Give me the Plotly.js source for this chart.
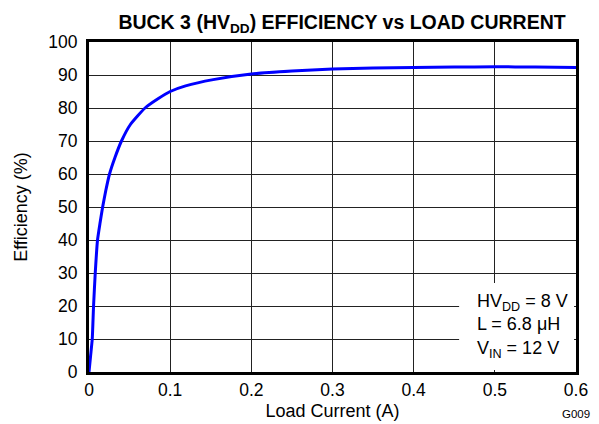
<!DOCTYPE html>
<html>
<head>
<meta charset="utf-8">
<script src="https://cdn.plot.ly/plotly-3.0.1.min.js"></script>
<style>html,body{margin:0;padding:0;background:#fff;}</style>
</head>
<body>
<div id="chart" style="width:599px;height:424px;"></div>
<script>
// Load current (A)
const loadCurrent = [0, 0.002, 0.004, 0.0056, 0.0077, 0.0105, 0.0135, 0.0168, 0.0207, 0.0253, 0.032, 0.04, 0.051, 0.069, 0.085, 0.1, 0.119, 0.153, 0.2, 0.25, 0.3, 0.35, 0.4, 0.45, 0.5, 0.55, 0.6];
// Efficiency (%)
const efficiency = [0, 5, 10, 20, 30, 40, 45, 50, 55, 60, 65, 70, 75, 80, 82.8, 85, 86.7, 88.6, 90.3, 91.2, 91.8, 92.1, 92.3, 92.4, 92.5, 92.4, 92.3];
const xTicks = [0, 0.1, 0.2, 0.3, 0.4, 0.5, 0.6];
const xTickText = ["0", "0.1", "0.2", "0.3", "0.4", "0.5", "0.6"];
const yTicks = [0, 10, 20, 30, 40, 50, 60, 70, 80, 90, 100];

const FONT = "Liberation Sans, Arial, sans-serif";

const trace = {
  x: loadCurrent,
  y: efficiency,
  type: "scatter",
  mode: "lines",
  line: {color: "#0000FF", width: 3, shape: "spline", smoothing: 0.5},
  hoverinfo: "skip"
};

const layout = {
  width: 599,
  height: 424,
  margin: {l: 89, r: 23, t: 42, b: 52},
  paper_bgcolor: "#fff",
  plot_bgcolor: "#fff",
  showlegend: false,
  font: {family: FONT, color: "#000", size: 17},
  title: {
    text: "<b>BUCK 3 (HV<sub>DD</sub>) EFFICIENCY vs LOAD CURRENT</b>",
    font: {family: FONT, size: 19.5, color: "#000"},
    x: 0.571, xanchor: "center",
    y: 0.948, yanchor: "middle"
  },
  xaxis: {
    range: [0, 0.6],
    tickvals: xTicks,
    ticktext: xTickText,
    showgrid: true,
    gridcolor: "#222",
    gridwidth: 1,
    showline: true,
    linecolor: "#000",
    linewidth: 3,
    mirror: true,
    zeroline: false,
    ticks: "",
    ticklen: 0,
    tickfont: {family: FONT, size: 17.5, color: "#000"},
    title: {text: "Load Current (A)", font: {family: FONT, size: 18, color: "#000"}, standoff: 6}
  },
  yaxis: {
    range: [0, 100],
    tickvals: yTicks,
    showgrid: true,
    gridcolor: "#222",
    gridwidth: 1,
    showline: true,
    linecolor: "#000",
    linewidth: 3,
    mirror: true,
    zeroline: false,
    ticks: "",
    ticklen: 0,
    ticklabelstandoff: 5,
    tickfont: {family: FONT, size: 17.5, color: "#000"},
    title: {text: "Efficiency (%)", font: {family: FONT, size: 18, color: "#000"}, standoff: 16}
  },
  shapes: [{
    type: "rect",
    xref: "paper", yref: "paper",
    x0: 0.76, x1: 0.996, y0: 0.006, y1: 0.27,
    fillcolor: "#fff",
    line: {width: 0},
    layer: "above"
  }],
  annotations: [
    {
      xref: "paper", yref: "paper",
      x: 0.792, y: 0.14,
      xanchor: "left", yanchor: "middle",
      align: "left",
      showarrow: false,
      text: "HV<sub>DD</sub> = 8 V<br>L = 6.8 μH<br>V<sub>IN</sub> = 12 V",
      font: {family: FONT, size: 18, color: "#000"}
    },
    {
      xref: "paper", yref: "paper",
      x: 1.033, y: -0.152,
      xanchor: "right", yanchor: "bottom",
      showarrow: false,
      text: "G009",
      font: {family: FONT, size: 11.5, color: "#000"}
    }
  ]
};

Plotly.newPlot("chart", [trace], layout, {displayModeBar: false, staticPlot: true});
</script>
</body>
</html>
